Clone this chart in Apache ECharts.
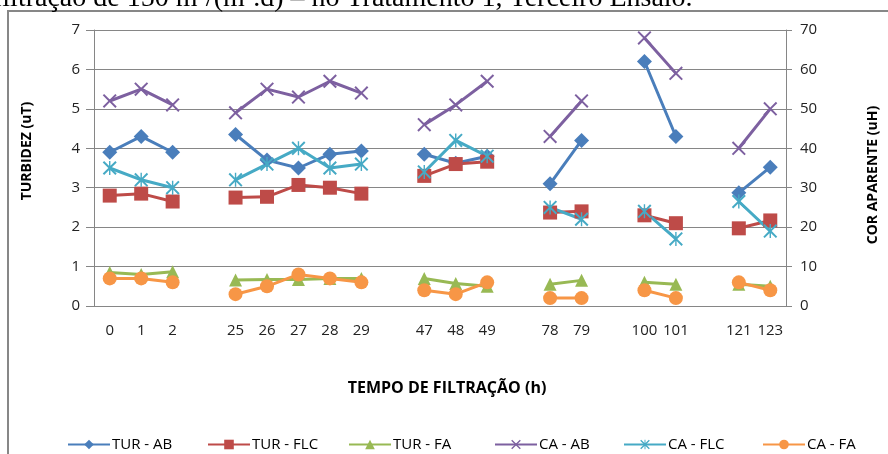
<!DOCTYPE html>
<html>
<head>
<meta charset="utf-8">
<script src="https://cdn.jsdelivr.net/npm/echarts@6/dist/echarts.min.js"></script>
<style>
  html, body { margin: 0; padding: 0; background: #fff; }
  #chart { width: 888px; height: 454px; }
</style>
</head>
<body>
<div id="chart"></div>
<script>
// tempo de filtração (h); '' = espaço entre ensaios
var tempo = ['0', '1', '2', '', '25', '26', '27', '28', '29', '', '47', '48', '49', '', '78', '79', '', '100', '101', '', '121', '123'];

// turbidez (uT) - eixo esquerdo
var turAB  = [3.9, 4.3, 3.9, null, 4.35, 3.7, 3.5, 3.85, 3.93, null, 3.85, 3.62, 3.8, null, 3.1, 4.2, null, 6.2, 4.3, null, 2.87, 3.52];
var turFLC = [2.8, 2.85, 2.65, null, 2.75, 2.77, 3.07, 3.0, 2.85, null, 3.3, 3.6, 3.66, null, 2.37, 2.4, null, 2.3, 2.1, null, 1.97, 2.17];
var turFA  = [0.85, 0.8, 0.87, null, 0.66, 0.67, 0.67, 0.7, 0.7, null, 0.7, 0.57, 0.5, null, 0.55, 0.65, null, 0.6, 0.55, null, 0.55, 0.5];

// cor aparente (uH) - eixo direito
var caAB  = [52, 55, 51, null, 49, 55, 53, 57, 54, null, 46, 51, 57, null, 43, 52, null, 68, 59, null, 40, 50];
var caFLC = [35, 32, 30, null, 32, 36, 40, 35, 36, null, 34, 42, 38, null, 25, 22, null, 24, 17, null, 26.5, 19];
var caFA  = [7, 7, 6, null, 3, 5, 8, 7, 6, null, 4, 3, 6, null, 2, 2, null, 4, 2, null, 6, 4];

var turTicks = [0, 7, 1];
var corTicks = [0, 70, 10];

var nomes = ['TUR - AB', 'TUR - FLC', 'TUR - FA', 'CA - AB', 'CA - FLC', 'CA - FA'];

var xMark = 'path://M0,2 L2,0 L10,8 L18,0 L20,2 L12,10 L20,18 L18,20 L10,12 L2,20 L0,18 L8,10 Z';
var starMark = 'path://M0,2 L2,0 L10,8 L18,0 L20,2 L12,10 L20,18 L18,20 L10,12 L2,20 L0,18 L8,10 Z M9,0 L11,0 L11,20 L9,20 Z';

var font = "'Open Sans', 'Noto Sans', sans-serif";

function serie(name, data, axis, color, symbol, size) {
    return {
        name: name,
        type: 'line',
        yAxisIndex: axis,
        data: data,
        symbol: symbol,
        symbolSize: size,
        connectNulls: false,
        lineStyle: {width: 3, color: color},
        itemStyle: {color: color},
        emphasis: {disabled: true},
        animation: false
    };
}

// uma legenda por item, para manter o espaçamento do original
var legendLeft = [62, 202, 343, 489, 618, 757];
var legends = nomes.map(function (n, i) {
    return {
        left: legendLeft[i],
        top: 432,
        itemWidth: 42,
        itemHeight: 12,
        textStyle: {fontFamily: font, fontSize: 15, color: '#000', padding: [0, 0, 0, -3]},
        data: [n]
    };
});

var chart = echarts.init(document.getElementById('chart'));
chart.setOption({
    animation: false,
    graphic: [
        {
            type: 'rect',
            shape: {x: 8, y: 11, width: 900, height: 500},
            style: {fill: 'none', stroke: '#878787', lineWidth: 2},
            silent: true
        },
        {
            type: 'text',
            x: -7,
            y: 13,
            style: {
                text: 'filtração de 150 m³/(m².d) – no Tratamento 1, Terceiro Ensaio.',
                font: '28px "Liberation Serif", serif',
                fill: '#000',
                verticalAlign: 'bottom'
            },
            silent: true
        }
    ],
    grid: {left: 94, right: 88, top: 30, bottom: 148},
    legend: legends,
    xAxis: {
        type: 'category',
        data: tempo,
        boundaryGap: true,
        name: 'TEMPO DE FILTRAÇÃO (h)',
        nameLocation: 'middle',
        nameGap: 74,
        nameTextStyle: {fontFamily: font, fontWeight: 'bold', fontSize: 16, color: '#000', padding: [0, 0, 0, 14]},
        axisLine: {lineStyle: {color: '#868686'}},
        axisTick: {interval: 0, length: 5, lineStyle: {color: '#868686'}},
        axisLabel: {interval: 0, margin: 17, fontFamily: font, fontSize: 15, color: '#222'},
        splitLine: {show: false}
    },
    yAxis: [
        {
            type: 'value',
            min: turTicks[0],
            max: turTicks[1],
            interval: turTicks[2],
            name: 'TURBIDEZ (uT)',
            nameLocation: 'middle',
            nameRotate: 90,
            nameGap: 60,
            nameTextStyle: {fontFamily: font, fontWeight: 'bold', fontSize: 14, color: '#000', padding: [0, 0, 0, 34]},
            axisLine: {show: true, lineStyle: {color: '#868686'}},
            axisTick: {show: true, length: 8, lineStyle: {color: '#868686'}},
            axisLabel: {margin: 14, fontFamily: font, fontSize: 15, color: '#222'},
            splitLine: {show: true, lineStyle: {color: '#868686', width: 1}}
        },
        {
            type: 'value',
            min: corTicks[0],
            max: corTicks[1],
            interval: corTicks[2],
            name: 'COR APARENTE (uH)',
            nameLocation: 'middle',
            nameRotate: 90,
            nameGap: 80,
            nameTextStyle: {fontFamily: font, fontWeight: 'bold', fontSize: 14, color: '#000', padding: [0, 14, 0, 0]},
            axisLine: {show: true, lineStyle: {color: '#868686'}},
            axisTick: {show: true, length: 6, lineStyle: {color: '#868686'}},
            axisLabel: {margin: 14, fontFamily: font, fontSize: 15, color: '#222'},
            splitLine: {show: false}
        }
    ],
    series: [
        serie(nomes[0], turAB, 0, '#4a7ebb', 'diamond', 15),
        serie(nomes[1], turFLC, 0, '#be4b48', 'rect', 14),
        serie(nomes[2], turFA, 0, '#98b954', 'triangle', 13),
        serie(nomes[3], caAB, 1, '#7d60a0', xMark, 14),
        serie(nomes[4], caFLC, 1, '#46aac5', starMark, 14),
        serie(nomes[5], caFA, 1, '#f79646', 'circle', 14)
    ]
});
</script>
</body>
</html>
